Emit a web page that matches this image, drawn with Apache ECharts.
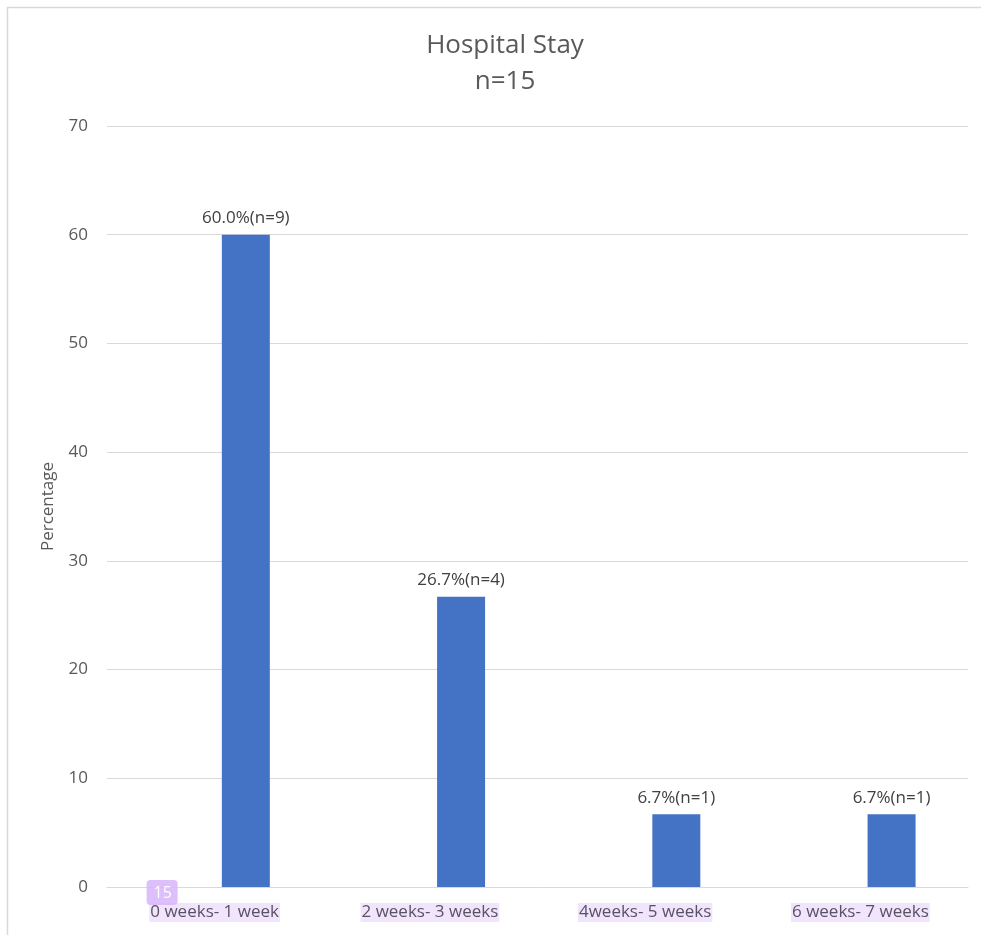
<!DOCTYPE html>
<html lang="en">
	<head>
		<meta charset="utf-8" />
		<title>Hospital Stay</title>
		<style>
			html, body { margin: 0; padding: 0; background: #fff; }
			#chart { width: 981px; height: 935px; }
		</style>
	</head>
	<body>
		<div id="chart"></div>
		<script type="text/javascript" src="https://cdn.jsdelivr.net/npm/echarts@6/dist/echarts.min.js"></script>
		<script type="text/javascript">
			// categories on the x axis
			const categories = ['0 weeks- 1 week', '2 weeks- 3 weeks', '4weeks- 5 weeks', '6 weeks- 7 weeks'];
			// percentage per category
			const percentValues = [60.0, 26.7, 6.7, 6.7];
			// patient counts per category
			const countValues = [9, 4, 1, 1];
			// empty first series (Excel cluster slot, keeps bars right of centre)
			const emptyValues = [null, null, null, null];
			const yTicks = [0, 10, 20, 30, 40, 50, 60, 70];

			const font = '"Open Sans", "Noto Sans", sans-serif';
			const chart = echarts.init(document.getElementById('chart'));

			const option = {
				animation: false,
				textStyle: { fontFamily: font },
				title: {
					text: 'Hospital Stay\nn=15',
					left: 500,
					top: 23,
					textAlign: 'center',
					textStyle: {
						color: '#595959',
						fontSize: 26,
						fontWeight: 'normal',
						lineHeight: 36,
						fontFamily: font
					}
				},
				grid: {
					left: 107,
					right: 13,
					top: 126,
					bottom: 48,
					containLabel: false
				},
				xAxis: {
					type: 'category',
					data: categories,
					axisLine: { lineStyle: { color: '#d9d9d9', width: 1 } },
					axisTick: { show: false },
					axisLabel: {
						color: '#5a5262',
						fontSize: 17,
						margin: 16,
						backgroundColor: '#f1e4fd',
						padding: [1, 1, 1, 1],
						fontFamily: font
					}
				},
				yAxis: {
					type: 'value',
					min: yTicks[0],
					max: yTicks[yTicks.length - 1],
					interval: 10,
					name: 'Percentage',
					nameLocation: 'middle',
					nameGap: 50,
					nameRotate: 90,
					nameTextStyle: { color: '#595959', fontSize: 17, fontFamily: font },
					axisLine: { show: false },
					axisTick: { show: false },
					axisLabel: { color: '#595959', fontSize: 17, margin: 19, fontFamily: font },
					splitLine: { lineStyle: { color: '#d9d9d9', width: 1 } }
				},
				series: [
					{
						name: 'blank',
						type: 'bar',
						barWidth: 48,
						barGap: '30%',
						data: emptyValues
					},
					{
						name: 'Percentage',
						type: 'bar',
						barWidth: 48,
						barGap: '30%',
						itemStyle: { color: '#4472c4' },
						label: {
							show: true,
							position: 'top',
							distance: 8,
							color: '#404040',
							fontSize: 17,
							fontFamily: font,
							formatter: function (p) {
								return p.value.toFixed(1) + '%(n=' + countValues[p.dataIndex] + ')';
							}
						},
						data: percentValues
					}
				]
			};
			chart.setOption(option);

			// outer frame plus the small "15" tag over the first category label
			const zero = chart.convertToPixel({ xAxisIndex: 0, yAxisIndex: 0 }, [0, 0]);
			chart.setOption({
				graphic: [{
					type: 'rect',
					silent: true,
					shape: { x: 7.5, y: 7.5, width: 985, height: 940 },
					style: { fill: 'none', stroke: '#d9d9d9', lineWidth: 1.5 }
				}, {
					type: 'rect',
					silent: true,
					z: 100,
					shape: { x: zero[0] - 68, y: zero[1] - 7, width: 31, height: 25, r: 4 },
					style: { fill: 'rgba(214,180,250,0.85)' }
				}, {
					type: 'text',
					silent: true,
					z: 101,
					x: zero[0] - 52,
					y: zero[1] + 6,
					style: {
						text: '15',
						fill: '#ffffff',
						font: '16px ' + font,
						align: 'center',
						verticalAlign: 'middle'
					}
				}]
			});
		</script>
	</body>
</html>
